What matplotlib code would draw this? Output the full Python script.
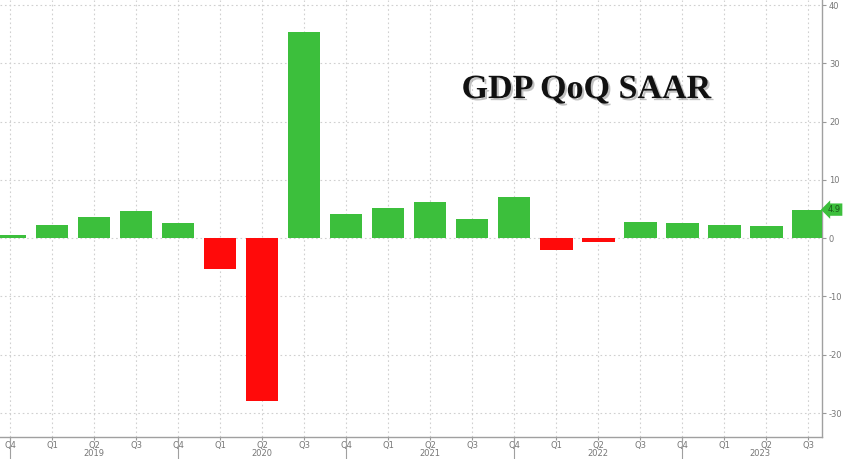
import numpy as np
import matplotlib.pyplot as plt
import matplotlib.transforms as mtransforms
import matplotlib.patheffects as pe

plt.rcParams["axes.unicode_minus"] = False

quarters = ["Q4", "Q1", "Q2", "Q3", "Q4", "Q1", "Q2", "Q3", "Q4", "Q1",
            "Q2", "Q3", "Q4", "Q1", "Q2", "Q3", "Q4", "Q1", "Q2", "Q3"]
gdp = [0.6, 2.2, 3.6, 4.6, 2.6, -5.3, -28.0, 35.3, 4.2, 5.2,
       6.2, 3.3, 7.0, -2.0, -0.6, 2.7, 2.6, 2.2, 2.1, 4.9]
years = ["2019", "2020", "2021", "2022", "2023"]
year_pos = [2, 6, 10, 14, 17.85]
year_sep = [0, 4, 8, 12, 16]

fig = plt.figure(figsize=(8.48, 4.59), dpi=100)
ax = fig.add_axes([0.0, 0.048, 822 / 848, 0.952])

x = np.arange(len(gdp))
colors = ["#3cbf3c" if v >= 0 else "#ff0a0a" for v in gdp]
ax.bar(x, gdp, width=0.78, color=colors, zorder=3)

ax.set_xlim(-0.24, 19.33)
ax.set_ylim(-34.1, 40.86)

# grid
ax.set_yticks(np.arange(-30, 41, 10))
ax.set_xticks(x)
ax.grid(True, color="#d0d0d0", linestyle=(0, (1.5, 2.5)), linewidth=0.8, zorder=0)

ax.yaxis.tick_right()
ax.tick_params(axis="y", length=3, color="#999999", labelsize=6,
               labelcolor="#777777", pad=2)
ax.tick_params(axis="x", length=2, color="#999999", labelsize=6,
               labelcolor="#777777", pad=1)
ax.set_xticklabels(quarters)

for s in ["top", "left"]:
    ax.spines[s].set_visible(False)
for s in ["right", "bottom"]:
    ax.spines[s].set_color("#a0a0a0")
    ax.spines[s].set_linewidth(1.0)

# year labels under quarter labels
trans = mtransforms.blended_transform_factory(ax.transData, ax.transAxes)
for yp, yl in zip(year_pos, years):
    ax.text(yp, -0.027, yl, transform=trans, ha="center", va="top",
            fontsize=6, color="#777777", clip_on=False)
for xs in year_sep:
    ax.plot([xs, xs], [0, -0.05], transform=trans, color="#a0a0a0",
            linewidth=0.8, clip_on=False)

# last value tag
ax.annotate(f"{gdp[-1]:.1f}", xy=(1.0, gdp[-1]), xycoords=("axes fraction", "data"),
            xytext=(4, 0), textcoords="offset points", ha="left", va="center",
            fontsize=6, color="#1a5a1a",
            bbox=dict(boxstyle="larrow,pad=0.2", fc="#3cbf3c", ec="none"))

# title with soft shadow
ax.text(0.713, 0.795, "GDP QoQ SAAR", transform=ax.transAxes, fontsize=24.5,
        fontweight="bold", family="Liberation Serif", color="#111111",
        ha="center", va="center",
        path_effects=[pe.withSimplePatchShadow(offset=(1.5, -1.5),
                                               shadow_rgbFace="#999999", alpha=0.6)])

fig.savefig("out.png", dpi=100)
